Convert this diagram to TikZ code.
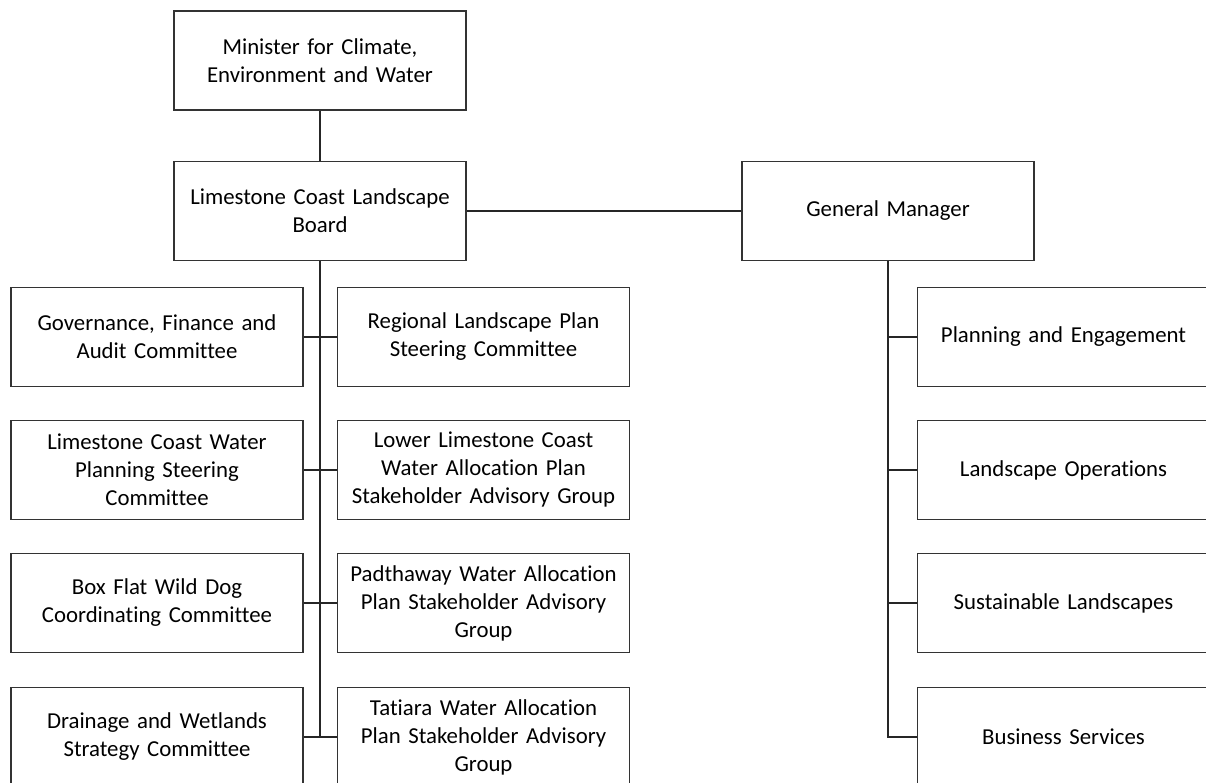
\documentclass[tikz,border=0pt]{standalone}
\usepackage{fontspec}
\setmainfont[Ligatures=NoCommon]{Carlito}
\usetikzlibrary{positioning}
\tikzset{
box/.style={draw=black!80, line width=1.6pt, minimum width=292pt, minimum height=99pt,
  inner sep=0pt, text width=290pt, align=center, font=\fontsize{22.8}{28}\selectfont},
link/.style={draw=black!85, line width=2pt}
}
\begin{document}
\begin{tikzpicture}[x=1pt,y=1pt]
\useasboundingbox (0,0) rectangle (1206,783);
\clip (0,0) rectangle (1206,783);

% top of the chart
\node[box] (min) at (320,722.5) {Minister for Climate,\\ Environment and Water};
\node[box] (board) at (320,572) {Limestone Coast Landscape\\ Board};
\node[box] (gm) at (888,572) {General Manager};

% committees and groups
\node[box] (gfa) at (157,446) {Governance, Finance and\\ Audit Committee};
\node[box] (rlp) at (483.5,446) {Regional Landscape Plan\\ Steering Committee};
\node[box] (lcw) at (157,313) {Limestone Coast Water\\ Planning Steering\\ Committee};
\node[box] (llc) at (483.5,313) {Lower Limestone Coast\\ Water Allocation Plan\\ Stakeholder Advisory Group};
\node[box] (bfw) at (157,180) {Box Flat Wild Dog\\ Coordinating Committee};
\node[box] (pad) at (483.5,180) {Padthaway Water Allocation\\ Plan Stakeholder Advisory\\ Group};
\node[box] (dwc) at (157,46) {Drainage and Wetlands\\ Strategy Committee};
\node[box] (tat) at (483.5,46) {Tatiara Water Allocation\\ Plan Stakeholder Advisory\\ Group};

% staff units
\node[box] (pe) at (1063.5,446) {Planning and Engagement};
\node[box] (lo) at (1063.5,313) {Landscape Operations};
\node[box] (sl) at (1063.5,180) {Sustainable Landscapes};
\node[box] (bs) at (1063.5,46) {Business Services};

\draw[link] (min) -- (board);
\draw[link] (board) -- (gm);
\draw[link] (board.south) -- (board.south |- dwc.east);
\foreach \l/\r in {gfa/rlp, lcw/llc, bfw/pad, dwc/tat}
  \draw[link] (\l.east) -- (\r.west);
\foreach \u in {pe, lo, sl, bs}
  \draw[link] (gm.south) |- (\u.west);
\end{tikzpicture}
\end{document}
